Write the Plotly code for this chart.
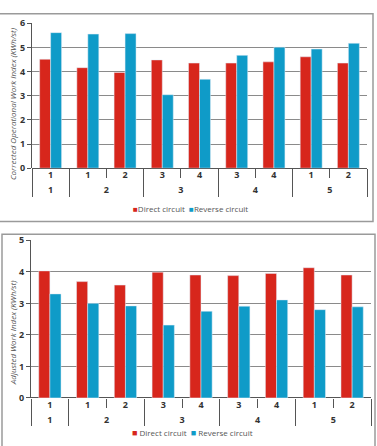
import plotly.graph_objects as go

outer = ["1", "2", "2", "3", "3", "4", "4", "5", "5"]
inner = ["1", "1", "2", "3", "4", "3", "4", "1", "2"]

top_direct = [4.51, 4.16, 3.96, 4.48, 4.35, 4.35, 4.40, 4.61, 4.35]
top_reverse = [5.61, 5.55, 5.57, 3.04, 3.68, 4.67, 5.01, 4.93, 5.17]

bot_direct = [4.03, 3.69, 3.58, 3.99, 3.90, 3.88, 3.95, 4.13, 3.90]
bot_reverse = [3.30, 3.00, 2.92, 2.31, 2.75, 2.91, 3.11, 2.80, 2.89]

series_names = ["Direct circuit", "Reverse circuit"]
top_title = "Corrected Operational Work Index (KWh/st)"
bot_title = "Adjusted Work Index (KWh/st)"

RED = "#d7261c"
BLUE = "#0f9bc8"
GRID = "#8a8a8a"
FRAME = "#9a9a9a"
TXT = "#333333"
FONT = "Open Sans"

W, H = 377, 446
def px(x):
    return x / W
def py(y):
    return 1 - y / H

fig = go.Figure()
x = [outer, inner]
fig.add_trace(go.Bar(x=x, y=top_direct, name=series_names[0], marker_color=RED,
                     xaxis="x", yaxis="y", showlegend=False))
fig.add_trace(go.Bar(x=x, y=top_reverse, name=series_names[1], marker_color=BLUE,
                     xaxis="x", yaxis="y", showlegend=False))
fig.add_trace(go.Bar(x=x, y=bot_direct, name=series_names[0], marker_color=RED,
                     xaxis="x2", yaxis="y2", showlegend=False))
fig.add_trace(go.Bar(x=x, y=bot_reverse, name=series_names[1], marker_color=BLUE,
                     xaxis="x2", yaxis="y2", showlegend=False))

tickfont = dict(family=FONT, size=9, color=TXT, weight="bold")

def xaxis(domain, anchor):
    return dict(domain=domain, anchor=anchor, type="multicategory",
                showline=False, ticks="outside", tickson="boundaries",
                ticklen=9, tickcolor="#555555", tickwidth=1,
                showdividers=True, dividercolor="#555555", dividerwidth=1,
                tickfont=tickfont, showgrid=False)

def yaxis(domain, anchor, rng):
    return dict(domain=domain, anchor=anchor, range=rng, dtick=1,
                showline=True, linecolor="#555555", linewidth=1,
                ticks="outside", ticklen=4, tickcolor="#555555",
                showgrid=True, gridcolor=GRID, gridwidth=1,
                zeroline=True, zerolinecolor="#555555", zerolinewidth=1,
                tickfont=tickfont)

fig.update_layout(
    width=W, height=H,
    margin=dict(l=0, r=0, t=0, b=0),
    paper_bgcolor="white", plot_bgcolor="white",
    barmode="group", bargap=0.41, bargroupgap=0,
    font=dict(family=FONT, color=TXT),
    xaxis=xaxis([px(32), px(367)], "y"),
    yaxis=yaxis([py(166), py(16.7)], "x", [0, 6]),
    xaxis2=xaxis([px(31), px(371)], "y2"),
    yaxis2=yaxis([py(402.7), py(240.3)], "x2", [0, 5]),
    showlegend=False,
)

fig.add_annotation(text=top_title, textangle=-90, x=px(12), y=py(100),
                   xanchor="center", yanchor="middle",
                   xref="paper", yref="paper", showarrow=False,
                   font=dict(family=FONT, size=8, color="#555555", style="italic"))
fig.add_annotation(text=bot_title, textangle=-90, x=px(12), y=py(336),
                   xanchor="center", yanchor="middle",
                   xref="paper", yref="paper", showarrow=False,
                   font=dict(family=FONT, size=8, color="#555555", style="italic"))

# legends (colored squares + series names)
def legend_text(after_sq, sep, sq):
    return (f'<span style="color:{RED};font-size:{sq}px">■</span>{after_sq}{series_names[0]}{sep}'
            f'<span style="color:{BLUE};font-size:{sq}px">■</span>{after_sq}{series_names[1]}')

fig.add_annotation(text=legend_text("", "\u00a0 ", 8), x=px(191), y=py(208),
                   xanchor="center", yanchor="middle", xref="paper", yref="paper",
                   showarrow=False, font=dict(family=FONT, size=8, color="#555555"))
fig.add_annotation(text=legend_text(" ", "\u00a0 ", 9), x=px(192), y=py(438),
                   xanchor="center", yanchor="middle", xref="paper", yref="paper",
                   showarrow=False, font=dict(family=FONT, size=8, color="#555555"))

# chart frames
fig.add_shape(type="rect", xref="paper", yref="paper",
              x0=px(-2), x1=px(373), y0=py(221), y1=py(7),
              line=dict(color=FRAME, width=1.5), layer="below")
fig.add_shape(type="rect", xref="paper", yref="paper",
              x0=px(2), x1=px(375), y0=py(460), y1=py(234),
              line=dict(color=FRAME, width=1.5), layer="below")

fig.write_html("out.html")
